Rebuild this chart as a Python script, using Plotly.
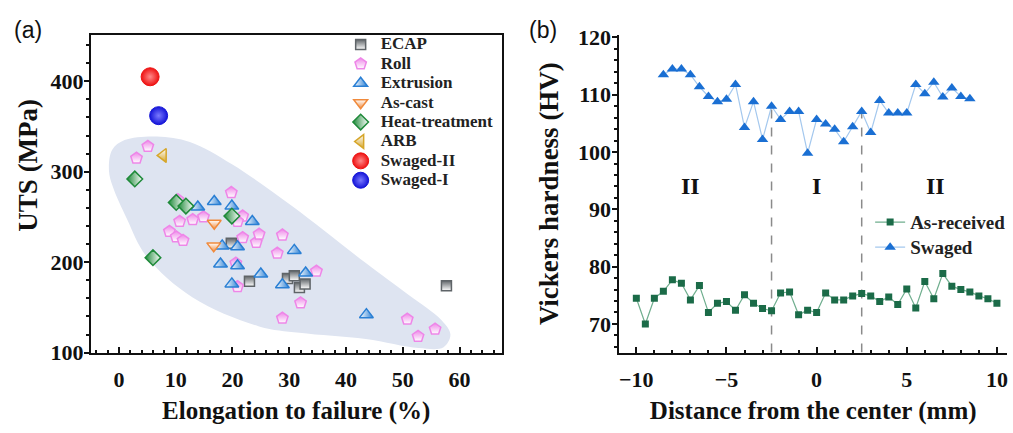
import plotly.graph_objects as go

W, H = 1013, 433
SERIF = "Liberation Serif, Times New Roman, serif"
SANS = "Liberation Sans, Arial, sans-serif"

# ---------------- panel (a): UTS vs elongation to failure ----------------
ecap_x = [19.8, 23.0, 29.7, 30.9, 31.8, 32.8, 57.7]
ecap_y = [221, 179, 182, 185, 172, 176, 174]

roll_x = [5.1, 3.1, 10.4, 19.8, 21.8, 20.9, 10.7, 13.0, 14.9, 8.9, 10.1, 11.3,
          21.8, 24.2, 24.7, 28.8, 27.9, 20.6, 20.9, 34.8, 32.0, 28.8, 50.8, 52.7, 55.7]
roll_y = [328, 315, 269, 277, 251, 245, 245, 247, 250, 234, 228, 224,
          227, 222, 231, 230, 210, 199, 173, 190, 155, 138, 137, 118, 126]

extr_x = [13.9, 16.8, 19.9, 23.5, 18.2, 20.9, 30.9, 17.9, 20.9, 25.0, 19.9, 28.8, 32.9, 43.6]
extr_y = [261, 267, 262, 245, 218, 217, 213, 198, 196, 187, 176, 175, 188, 142]

cast_x = [16.8, 16.7]
cast_y = [243, 218]

heat_x = [2.8, 10.1, 11.8, 19.9, 6.0]
heat_y = [292, 266, 262, 251, 205]

arb_x = [7.8]
arb_y = [318]

sw2_x, sw2_y = [5.5], [405]
sw1_x, sw1_y = [7.0], [362]

# outline of the shaded envelope around the conventional-process data
env_x = [-1.75, -1.2, 1.0, 6.7, 12.5, 20.0, 30.5, 43.5, 51.0, 56.8, 58.4, 57.2,
         52.8, 43.5, 31.8, 24.7, 13.0, 4.9, 1.4, -1.05, -1.75]
env_y = [301, 324, 335, 339, 333, 308, 262, 199, 164, 136, 120, 106,
         105, 115, 122, 129, 161, 206, 248, 283, 301]

# ---------------- panel (b): hardness profile ----------------
pos_asrec = [-10.0, -9.5, -9.0, -8.5, -8.0, -7.5, -7.0, -6.5, -6.0, -5.5, -5.0,
             -4.5, -4.0, -3.5, -3.0, -2.5, -2.0, -1.5, -1.0, -0.5, 0.0,
             0.5, 1.0, 1.5, 2.0, 2.5, 3.0, 3.5, 4.0, 4.5, 5.0,
             5.5, 6.0, 6.5, 7.0, 7.5, 8.0, 8.5, 9.0, 9.5, 10.0]
hv_asrec = [74.5, 70.0, 74.5, 75.7, 77.7, 77.1, 74.2, 76.7, 72.0, 73.6, 73.9,
            72.4, 75.1, 73.6, 72.7, 72.3, 75.4, 75.6, 71.6, 72.4, 72.0,
            75.4, 74.2, 74.2, 74.9, 75.3, 74.9, 73.9, 74.7, 73.4, 76.1,
            72.8, 77.4, 74.4, 78.8, 76.6, 76.0, 75.6, 74.9, 74.4, 73.6]

pos_swaged = [-8.5, -8.0, -7.5, -7.0, -6.5, -6.0, -5.5, -5.0, -4.5, -4.0, -3.5,
              -3.0, -2.5, -2.0, -1.5, -1.0, -0.5, 0.0, 0.5, 1.0, 1.5,
              2.0, 2.5, 3.0, 3.5, 4.0, 4.5, 5.0, 5.5, 6.0, 6.5,
              7.0, 7.5, 8.0, 8.5]
hv_swaged = [113.5, 114.5, 114.5, 113.5, 111.4, 109.7, 108.8, 109.2, 111.8, 104.3, 108.8,
             102.2, 108.0, 105.7, 107.1, 107.1, 99.8, 105.7, 104.9, 104.0, 101.8,
             104.4, 107.1, 103.4, 109.0, 106.8, 106.8, 106.8, 111.8, 110.2, 112.2,
             109.6, 111.2, 109.7, 109.3]

zone_bounds = [-2.5, 2.5]
zone_top = 107.5
zone_names = ["II", "I", "II"]
zone_x = [-7.0, 0.0, 6.6]
zone_y = 94.0

fig = go.Figure()

fig.add_trace(go.Scatter(
    x=env_x, y=env_y, mode="lines", fill="toself",
    fillcolor="rgb(222,228,241)", line=dict(color="rgb(222,228,241)", width=0, shape="spline", smoothing=1.0),
    showlegend=False, hoverinfo="skip", xaxis="x", yaxis="y"))


def lg(name, px=17):
    return '<span style="font-size:%dpx">%s</span>' % (px, name)


def half(x, y, name, symbol, col, size, gtype, filled_first):
    # half-filled symbols: the gradient runs from white to the series colour
    if filled_first:
        mcol, gcol = col, "white"
    else:
        mcol, gcol = "white", col
    fig.add_trace(go.Scatter(
        x=x, y=y, mode="markers", name=lg(name), legend="legend",
        marker=dict(symbol=symbol, size=size, color=mcol,
                    gradient=dict(type=gtype, color=gcol),
                    line=dict(color=col, width=1.5)),
        xaxis="x", yaxis="y"))


half(ecap_x, ecap_y, "ECAP", "square", "#5f6468", 10, "vertical", True)
half(roll_x, roll_y, "Roll", "pentagon", "#ee86e8", 12, "vertical", True)
half(extr_x, extr_y, "Extrusion", "triangle-up", "#2a7fd4", 12, "horizontal", False)
half(cast_x, cast_y, "As-cast", "triangle-down", "#f08a3c", 12, "vertical", False)
half(heat_x, heat_y, "Heat-treatment", "diamond", "#1f8a3a", 12, "horizontal", True)
half(arb_x, arb_y, "ARB", "triangle-left", "#d6a62a", 12, "vertical", False)

for xs, ys, nm, col, glow in [(sw2_x, sw2_y, "Swaged-II", "#ee1111", "#ff8a8a"),
                              (sw1_x, sw1_y, "Swaged-I", "#1414d8", "#7a7aff")]:
    fig.add_trace(go.Scatter(
        x=xs, y=ys, mode="markers", name=lg(nm), legend="legend",
        marker=dict(symbol="circle", size=18, color=col,
                    gradient=dict(type="radial", color=glow),
                    line=dict(color=col, width=1)),
        xaxis="x", yaxis="y"))

# panel (b) series
fig.add_trace(go.Scatter(
    x=pos_asrec, y=hv_asrec, mode="lines+markers", name=lg("As-received", 19), legend="legend2",
    line=dict(color="#6fae8e", width=1.2),
    marker=dict(symbol="square", size=7, color="#1b6b48"),
    xaxis="x2", yaxis="y2"))
fig.add_trace(go.Scatter(
    x=pos_swaged, y=hv_swaged, mode="lines+markers", name=lg("Swaged", 19), legend="legend2",
    line=dict(color="#a4c8ee", width=1.2),
    marker=dict(symbol="triangle-up", size=10, color="#1a6fd3"),
    xaxis="x2", yaxis="y2"))

for xb in zone_bounds:
    fig.add_shape(type="line", xref="x2", yref="y2", x0=xb, x1=xb, y0=65, y1=zone_top,
                  line=dict(color="#8a8a8a", width=1.5, dash="dash"), layer="below")

for nm, zx in zip(zone_names, zone_x):
    fig.add_annotation(x=zx, y=zone_y, xref="x2", yref="y2", text=nm, showarrow=False,
                       font=dict(family=SERIF, size=24, color="#111", weight="bold"))

fig.add_annotation(x=12 / W, y=1 - 22 / H, xref="paper", yref="paper", text="(a)",
                   showarrow=False, xanchor="left", yanchor="middle",
                   font=dict(family=SANS, size=23, color="#111"))
fig.add_annotation(x=528 / W, y=1 - 22 / H, xref="paper", yref="paper", text="(b)",
                   showarrow=False, xanchor="left", yanchor="middle",
                   font=dict(family=SANS, size=23, color="#111"))

tickfont = dict(family=SERIF, size=22, color="#111", weight="bold")
titlefont = dict(family=SERIF, size=25, color="#111", weight="bold")
ytitlefont = dict(family=SERIF, size=27, color="#111", weight="bold")
ydom = [(H - 362) / H, (H - 27) / H]

# y-axis title of panel (a)
fig.add_annotation(x=28 / W, y=1 - 164 / H, xref="paper", yref="paper", text="UTS (MPa)",
                   showarrow=False, textangle=-90, xanchor="center", yanchor="middle",
                   font=ytitlefont)

common = dict(showline=True, linecolor="#111", linewidth=2, showgrid=False, zeroline=False,
              tickfont=tickfont, tickcolor="#111", tickwidth=1.5)

fig.update_layout(
    width=W, height=H, margin=dict(l=0, r=0, t=0, b=0),
    plot_bgcolor="white", paper_bgcolor="white", showlegend=True,
    xaxis=dict(domain=[91 / W, 502 / W], range=[-4.93, 67.4], dtick=10, ticks="inside", ticklen=6,
               mirror=True, minor=dict(dtick=2, ticks="inside", ticklen=3, tickcolor="#111"),
               ticklabelstandoff=6,
               title=dict(text="Elongation to failure (%)", font=titlefont, standoff=10), **common),
    yaxis=dict(domain=ydom, range=[100, 451.6], dtick=100, ticks="outside", ticklen=5,
               mirror=True, minor=dict(dtick=20, ticks="outside", ticklen=3, tickcolor="#111"),
               ticklabelstandoff=-4, **common),
    xaxis2=dict(domain=[620 / W, 1008 / W], range=[-10.94, 10.56], dtick=5, ticks="inside", ticklen=6,
                anchor="y2", minor=dict(dtick=1, ticks="inside", ticklen=3, tickcolor="#111"),
                ticklabelstandoff=6,
                title=dict(text="Distance from the center (mm)", font=titlefont, standoff=10), **common),
    yaxis2=dict(domain=ydom, range=[65, 120.5], dtick=10, ticks="outside", ticklen=5,
                anchor="x2", minor=dict(dtick=2, ticks="outside", ticklen=3, tickcolor="#111"),
                ticklabelstandoff=-3,
                title=dict(text="Vickers hardness (HV)", font=ytitlefont, standoff=12), **common),
    legend=dict(x=341 / W, xanchor="left", y=1 - 22 / H, yanchor="top",
                font=dict(family=SERIF, size=12.6, color="#222", weight="bold"),
                bgcolor="rgba(0,0,0,0)", itemwidth=30, tracegroupgap=0),
    legend2=dict(x=871 / W, xanchor="left", y=1 - 206 / H, yanchor="top",
                 font=dict(family=SERIF, size=17, color="#222", weight="bold"),
                 bgcolor="rgba(0,0,0,0)", itemwidth=30, tracegroupgap=0),
)

fig.write_html("out.html")
